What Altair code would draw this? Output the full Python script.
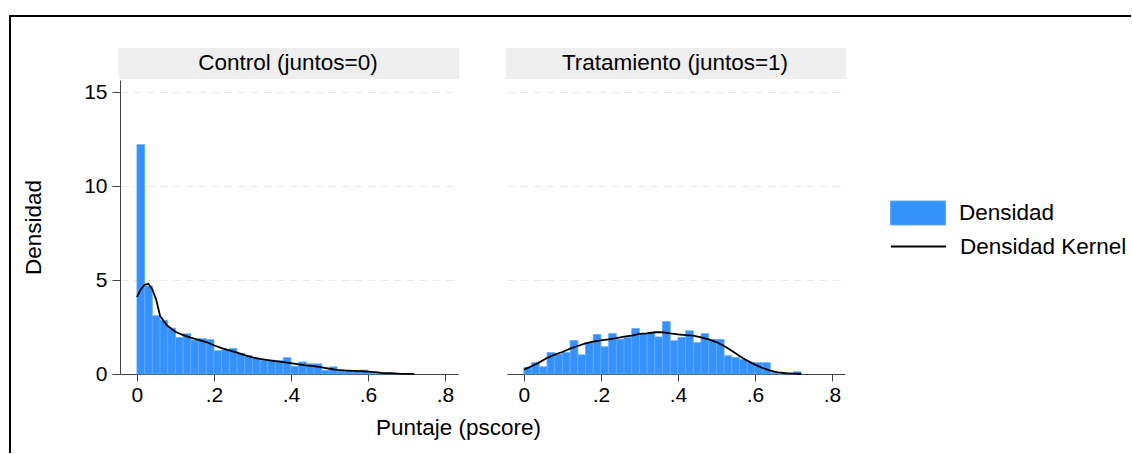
import altair as alt
import pandas as pd

# ---------------- data ----------------
bin_width = 0.02

control_density = [12.2, 4.68, 3.1, 2.86, 2.44, 1.94, 2.14, 1.81, 1.88, 1.83,
                   1.24, 1.28, 1.36, 1.10, 0.97, 0.82, 0.73, 0.73, 0.71, 0.87,
                   0.41, 0.64, 0.54, 0.54, 0.19, 0.38, 0.18, 0.18, 0.16, 0.21,
                   0.08, 0.05, 0.03, 0.02, 0.02, 0.01]

treat_density = [0.36, 0.6, 0.38, 1.14, 1.05, 1.14, 1.78, 1.02, 1.66, 2.1,
                 1.45, 2.15, 1.85, 1.95, 2.42, 2.14, 2.2, 1.97, 2.79, 1.77,
                 1.95, 2.3, 1.67, 2.15, 1.84, 1.84, 0.97, 0.88, 0.78, 0.61,
                 0.6, 0.6, 0.07, 0.0, 0.0, 0.12]

control_kx = [0.0, 0.01, 0.02, 0.03, 0.04, 0.05, 0.06, 0.07, 0.08,
              0.10, 0.12, 0.14, 0.16, 0.18, 0.20, 0.22, 0.24, 0.26, 0.28,
              0.30, 0.32, 0.34, 0.36, 0.38, 0.40, 0.42, 0.44, 0.46, 0.48,
              0.50, 0.52, 0.54, 0.56, 0.58, 0.60, 0.62, 0.64, 0.66, 0.68,
              0.70, 0.72]
control_ky = [4.1, 4.5, 4.75, 4.8, 4.5, 3.95, 3.1, 2.8, 2.55,
              2.25, 2.07, 1.93, 1.82, 1.7, 1.53, 1.38, 1.26, 1.14, 1.0,
              0.88, 0.8, 0.74, 0.68, 0.63, 0.58, 0.51, 0.46, 0.42, 0.35,
              0.28, 0.22, 0.19, 0.17, 0.15, 0.13, 0.1, 0.05, 0.04, 0.02,
              0.01, 0.0]

treat_kx = [0.0, 0.02, 0.04, 0.06, 0.08, 0.10, 0.12, 0.14, 0.16, 0.18,
            0.20, 0.22, 0.24, 0.26, 0.28, 0.30, 0.32, 0.34, 0.36, 0.38,
            0.40, 0.42, 0.44, 0.46, 0.48, 0.50, 0.52, 0.54, 0.56, 0.58,
            0.60, 0.62, 0.64, 0.66, 0.68, 0.70, 0.72]
treat_ky = [0.23, 0.41, 0.62, 0.85, 1.03, 1.17, 1.35, 1.49, 1.63, 1.72,
            1.79, 1.84, 1.91, 1.99, 2.04, 2.13, 2.16, 2.22, 2.22, 2.16,
            2.11, 2.07, 2.04, 1.95, 1.84, 1.7, 1.49, 1.24, 0.96, 0.71,
            0.5, 0.32, 0.18, 0.09, 0.04, 0.02, 0.0]

x_ticks = [0, 0.2, 0.4, 0.6, 0.8]
y_ticks = [0, 5, 10, 15]
panel_titles = ["Control (juntos=0)", "Tratamiento (juntos=1)"]
series = ["Densidad", "Densidad Kernel"]
x_title = "Puntaje (pscore)"
y_title = "Densidad"

# ---------------- styling ----------------
FONT = "Liberation Sans"
TXT = 22.5
BLUE = "#3591fb"
BLUE_EDGE = "#5fa8fb"
W, H = 338, 294
GAP = 49
X_DOMAIN = [-0.044, 0.834]
Y_DOMAIN = [0, 15.64]
LEG_X, LEG_Y = 783.5, 118.5
FRAME_L, FRAME_T, FRAME_R, FRAME_B = -110, -64, 1011, 373


def bars_frame(heights):
    return pd.DataFrame({
        "x0": [i * bin_width for i in range(len(heights))],
        "x1": [(i + 1) * bin_width for i in range(len(heights))],
        "y": heights,
        "base": 0.0,
        "serie": series[0],
    })


def kernel_frame(kx, ky):
    return pd.DataFrame({"x": kx, "y": ky, "serie": series[1]})


fill_enc = alt.Fill(
    "serie:N",
    scale=alt.Scale(domain=[series[0]], range=[BLUE]),
    legend=alt.Legend(
        title=None, orient="none", legendX=LEG_X, legendY=LEG_Y,
        labelFont=FONT, labelFontSize=TXT, labelColor="black", labelOffset=26.5,
        labelLimit=400,
        symbolType="M-2,-0.87H2V0.87H-2Z", symbolSize=756,
        symbolStrokeColor=BLUE_EDGE, symbolStrokeWidth=1, symbolOpacity=1,
    ),
)
stroke_enc = alt.Stroke(
    "serie:N",
    scale=alt.Scale(domain=[series[1]], range=["black"]),
    legend=alt.Legend(
        title=None, orient="none", legendX=LEG_X, legendY=LEG_Y + 33,
        labelFont=FONT, labelFontSize=TXT, labelColor="black", labelOffset=26.5,
        labelLimit=400,
        symbolType="M-2,0H2", symbolSize=756, symbolStrokeWidth=2,
        symbolOpacity=1,
    ),
)

label_expr = "datum.value == 0 ? '0' : replace(format(datum.value, '.1f'), '0.', '.')"


def panel(heights, kx, ky, title, first):
    xscale = alt.Scale(domain=X_DOMAIN, nice=False, zero=False)
    yscale = alt.Scale(domain=Y_DOMAIN, nice=False)
    if first:
        xaxis = alt.Axis(values=x_ticks, labelExpr=label_expr, grid=False,
                         title=x_title, titleX=W, titleAlign="center",
                         titlePadding=11)
        yaxis = alt.Axis(values=y_ticks, grid=True, title=y_title,
                         titlePadding=38)
    else:
        xaxis = alt.Axis(values=x_ticks, labelExpr=label_expr, grid=False, title=None)
        yaxis = alt.Axis(values=y_ticks, grid=True, title=None, labels=False,
                         ticks=False, domain=False)

    bars = alt.Chart(bars_frame(heights)).mark_bar(
        stroke=BLUE_EDGE, strokeWidth=0.8
    ).encode(
        x=alt.X("x0:Q", scale=xscale, axis=xaxis),
        x2="x1:Q",
        y=alt.Y("y:Q", scale=yscale, axis=yaxis),
        y2="base:Q",
        fill=fill_enc,
    )
    line = alt.Chart(kernel_frame(kx, ky)).mark_line(strokeWidth=1.8).encode(
        x=alt.X("x:Q", scale=xscale),
        y=alt.Y("y:Q", scale=yscale),
        stroke=stroke_enc,
    )
    strip_df = pd.DataFrame({"t": [title]})
    strip = alt.Chart(strip_df).mark_rect(color="#eeeeee").encode(
        x=alt.value(-1.5), x2=alt.value(W + 1), y=alt.value(-32), y2=alt.value(-1)
    )
    strip_text = alt.Chart(strip_df).mark_text(
        font=FONT, fontSize=TXT, color="black", baseline="middle"
    ).encode(x=alt.value(W / 2 - 1), y=alt.value(-17), text="t:N")
    layers = [strip, strip_text, bars, line]
    if first:
        frame_top = alt.Chart(strip_df).mark_rule(color="black", strokeWidth=2).encode(
            x=alt.value(FRAME_L - 1), x2=alt.value(FRAME_R), y=alt.value(FRAME_T)
        )
        frame_left = alt.Chart(strip_df).mark_rule(color="black", strokeWidth=2).encode(
            x=alt.value(FRAME_L), y=alt.value(FRAME_T - 1), y2=alt.value(FRAME_B)
        )
        layers += [frame_top, frame_left]
    return alt.layer(*layers).properties(width=W, height=H)


left = panel(control_density, control_kx, control_ky, panel_titles[0], True)
right = panel(treat_density, treat_kx, treat_ky, panel_titles[1], False)

chart = alt.hconcat(left, right, spacing=GAP, bounds="flush").properties(
    padding={"left": 8, "top": 14, "right": 0, "bottom": 0},
    background="white",
).configure_view(
    stroke=None
).configure_axis(
    labelFont=FONT, labelFontSize=21, labelColor="black",
    titleFont=FONT, titleFontSize=TXT, titleFontWeight="normal", titleColor="black",
    domainColor="#444444", tickColor="#444444", tickSize=7, labelPadding=4,
    gridColor="#e8e8e8", gridDash=[8, 5], gridWidth=1,
).configure_axisX(
    labelPadding=3
).configure_axisY(
    labelPadding=5, tickSize=8
)

chart.save("out.html", embed_options={"renderer": "svg", "actions": False})
